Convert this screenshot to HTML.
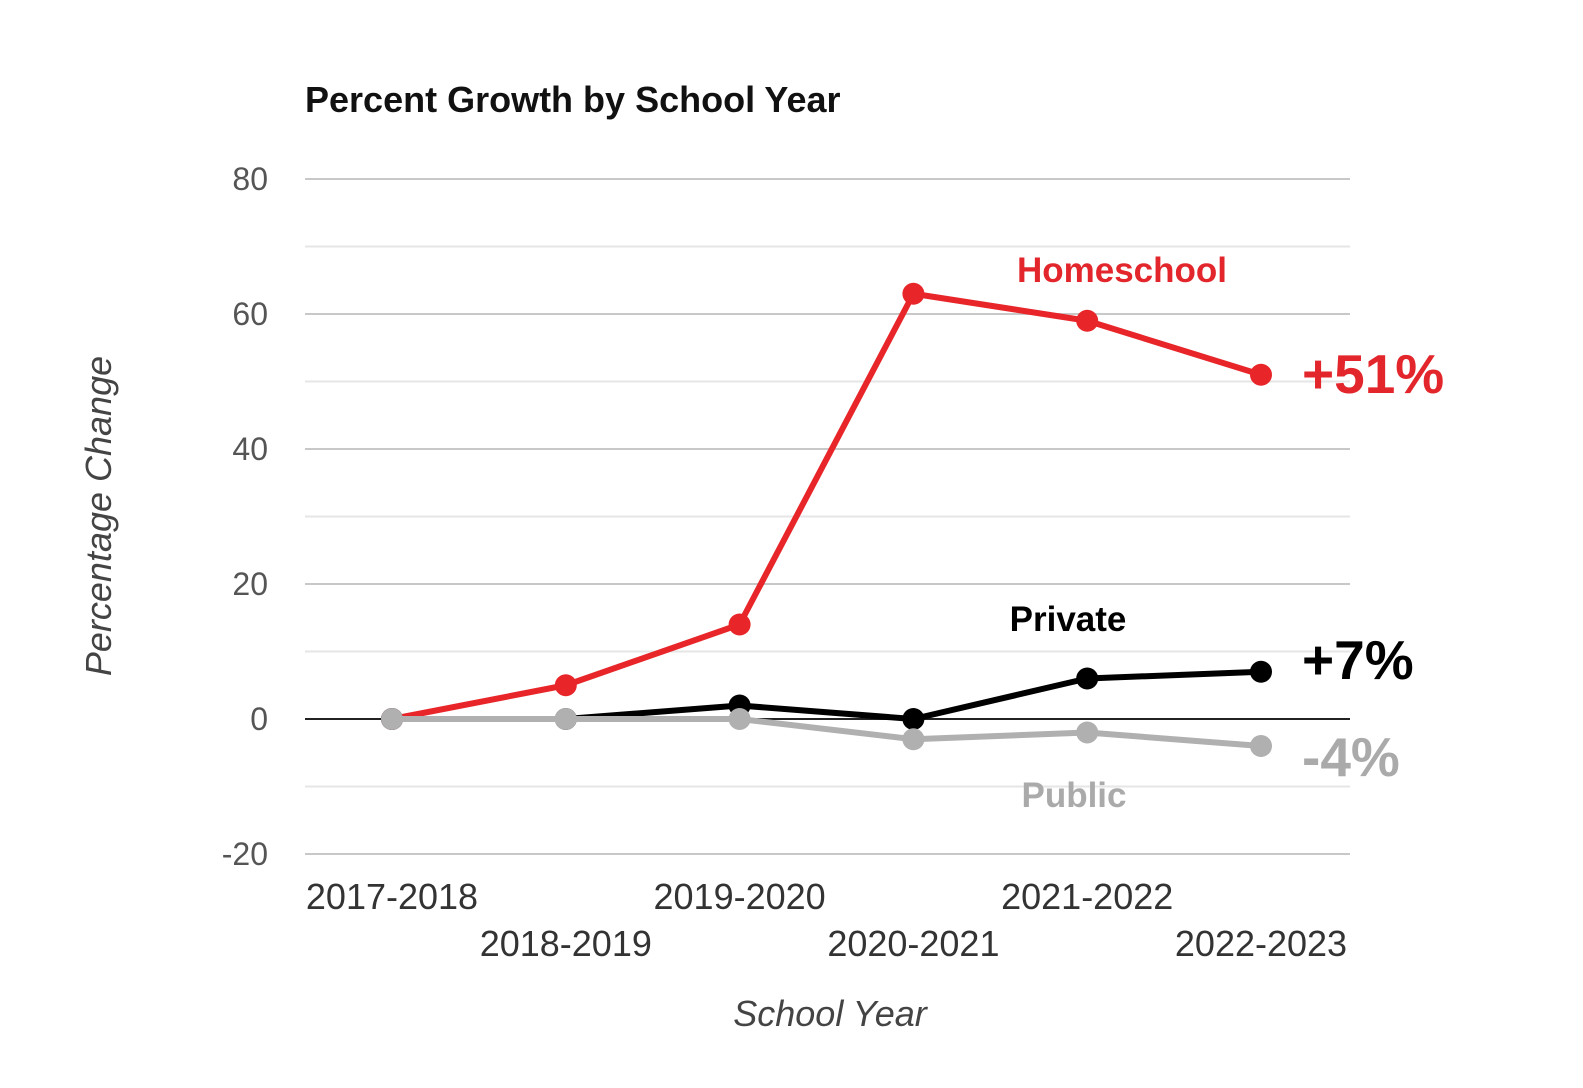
<!DOCTYPE html>
<html><head><meta charset="utf-8"><style>
html,body{margin:0;padding:0;background:#fff;}
svg{display:block;font-family:"Liberation Sans",Arial,sans-serif;}
</style></head><body>
<svg width="1583" height="1088" viewBox="0 0 1583 1088" xmlns="http://www.w3.org/2000/svg">
<text x="305" y="112" font-size="36" font-weight="bold" fill="#111">Percent Growth by School Year</text>
<g id="grid"></g>
<g id="yticks"></g>
<g id="xticks"></g>
<g id="series"></g>
<text transform="translate(111,516) rotate(-90)" text-anchor="middle" font-size="36" font-style="italic" fill="#444">Percentage Change</text>
<text x="830" y="1026" text-anchor="middle" font-size="36" font-style="italic" fill="#444">School Year</text>
<text x="1122" y="282" text-anchor="middle" font-size="35" font-weight="bold" fill="#e2262b">Homeschool</text>
<text x="1302" y="393" font-size="55" font-weight="bold" fill="#e2262b">+51%</text>
<text x="1068" y="631" text-anchor="middle" font-size="35" font-weight="bold" fill="#000">Private</text>
<text x="1302" y="679" font-size="55" font-weight="bold" fill="#000">+7%</text>
<text x="1302" y="776" font-size="55" font-weight="bold" fill="#aaa">-4%</text>
<text x="1074" y="807" text-anchor="middle" font-size="35" font-weight="bold" fill="#aaa">Public</text>
</svg>
<script>
const categories=["2017-2018","2018-2019","2019-2020","2020-2021","2021-2022","2022-2023"];
const homeschool=[0,5,14,63,59,51];
const privateS=[0,0,2,0,6,7];
const publicS=[0,0,0,-3,-2,-4];
const yTicks=[80,60,40,20,0,-20];
const NS="http://www.w3.org/2000/svg";
const y=v=>719-v*6.75;
const x=i=>392+i*173.8;
function mk(t,a,p){const e=document.createElementNS(NS,t);for(const k in a)e.setAttribute(k,a[k]);p.appendChild(e);return e;}
const grid=document.getElementById('grid');
for(let v=-20;v<=80;v+=10){
 const l=mk('line',{x1:305,x2:1350,y1:y(v),y2:y(v),stroke:v===0?'#222':(v%20===0?'#c8c8c8':'#e6e6e6'),'stroke-width':2},grid);
 
 
}
const yt=document.getElementById('yticks');
yTicks.forEach(v=>{const t=mk('text',{x:268,y:y(v)+11,'text-anchor':'end','font-size':32,fill:'#555'},yt);t.textContent=v;
 
 });
const xt=document.getElementById('xticks');
categories.forEach((c,i)=>{const t=mk('text',{x:x(i),y:i%2?956:909,'text-anchor':'middle','font-size':36,fill:'#333'},xt);t.textContent=c;
 
 });
const sg=document.getElementById('series');
[[homeschool,'#e8262a','homeschool'],[privateS,'#000','private'],[publicS,'#b0b0b0','public']].forEach(([d,col,n])=>{
 const g=mk('g',{},sg);
 
 
 const p=mk('polyline',{points:d.map((v,i)=>x(i)+','+y(v)).join(' '),fill:'none',stroke:col,'stroke-width':6,'stroke-linejoin':'round'},g);
 
 
 d.forEach((v,i)=>{const c=mk('circle',{cx:x(i),cy:y(v),r:11,fill:col},g);
  
  });
});
</script>
</body></html>
